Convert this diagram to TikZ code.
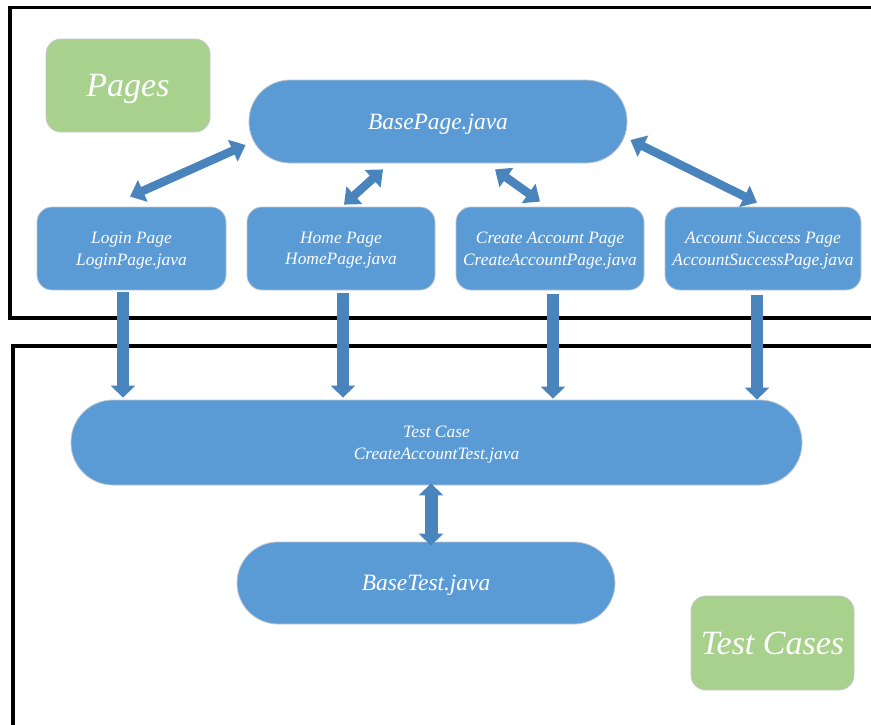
\documentclass[tikz,border=0pt]{standalone}
\usepackage{fontspec}
\setmainfont{Liberation Serif}
\usetikzlibrary{arrows.meta,calc}
\definecolor{boxblue}{RGB}{91,155,213}
\definecolor{boxedge}{RGB}{190,198,208}
\definecolor{arrowblue}{RGB}{74,132,188}
\definecolor{labelgreen}{RGB}{169,209,142}
\definecolor{labeledge}{RGB}{200,200,200}
\begin{document}
\begin{tikzpicture}[x=1pt,y=-1pt,
  frame/.style={line width=3.5pt,black},
  bluebox/.style={fill=boxblue,draw=boxedge,line width=0.8pt,inner sep=0pt,text depth=0pt,
    text=white,align=center,font=\itshape\fontsize{17.4}{21.5}\selectfont},
  pill/.style={bluebox,rounded corners=41pt,font=\itshape\fontsize{23.4}{28}\selectfont},
  pagebox/.style={bluebox,rounded corners=15pt,minimum width=188pt,minimum height=83pt},
  greenlabel/.style={fill=labelgreen,draw=labeledge,line width=0.8pt,rounded corners=15pt,
    text=white,inner sep=0pt,text depth=0pt,font=\itshape\fontsize{34}{40}\selectfont},
  dblarrow/.style={arrowblue,line width=8.5pt,
    {Triangle[width=23pt,length=14pt]}-{Triangle[width=23pt,length=14pt]}},
  downarrow/.style={arrowblue,line width=12pt,-{Triangle[width=24pt,length=12pt]}},
  vdblarrow/.style={arrowblue,line width=13pt,
    {Triangle[width=24pt,length=12pt]}-{Triangle[width=24pt,length=12pt]}}
]
\useasboundingbox (0,0) rectangle (871,724);
% frames
\draw[frame] (875,7.5) -- (10,7.5) -- (10,318) -- (875,318);
\draw[frame] (875,346) -- (13,346) -- (13,730);
% labels
\node[greenlabel,minimum width=164pt,minimum height=93pt] (pageslbl) at (128,85.5) {Pages};
\node[greenlabel,minimum width=163pt,minimum height=94pt] (testslbl) at (772.5,643) {Test Cases};
% boxes
\node[pill,minimum width=378pt,minimum height=83pt] (basepage) at (438,121.5) {BasePage.java};
\node[pagebox,minimum width=189pt] (login) at (131.5,248.5) {Login Page\\LoginPage.java};
\node[pagebox] (home) at (341,248.5) {Home Page\\HomePage.java};
\node[pagebox] (create) at (550,248.5) {Create Account Page\\CreateAccountPage.java};
\node[pagebox,minimum width=196pt] (success) at (763,248.5) {Account Success Page\\AccountSuccessPage.java};
\node[bluebox,rounded corners=42pt,minimum width=731pt,minimum height=85pt] (testcase) at (436.5,442.5) {Test Case\\CreateAccountTest.java};
\node[pill,minimum width=378pt,minimum height=82pt] (basetest) at (426,583) {BaseTest.java};
% arrows between BasePage and pages
\draw[dblarrow] ($(login.north)+(-1.5,-10)$) -- ($(basepage.west)+(-3,23.5)$);
\draw[dblarrow] ($(home.north)+(3,-2)$) -- ($(basepage.south)+(-55,6)$);
\draw[dblarrow] ($(basepage.south)+(57,6)$) -- ($(create.north)+(-10,-5)$);
\draw[dblarrow] ($(basepage.east)+(3,18.5)$) -- ($(success.north)+(-6,-4)$);
% arrows from pages to test case
\draw[downarrow] ($(login.south)+(-8.5,2)$) -- ($(login.south |- testcase.north)+(-8.5,-2)$);
\draw[downarrow] ($(home.south)+(2,3)$) -- ($(home.south |- testcase.north)+(2,-2)$);
\draw[downarrow] ($(create.south)+(3,4)$) -- ($(create.south |- testcase.north)+(3,-1)$);
\draw[downarrow] ($(success.south)+(-6,5)$) -- ($(success.south |- testcase.north)+(-6,0)$);
% test case <-> base test
\draw[vdblarrow] ($(testcase.south)+(-5.5,-2)$) -- ($(basetest.north)+(5,4)$);
\end{tikzpicture}
\end{document}
